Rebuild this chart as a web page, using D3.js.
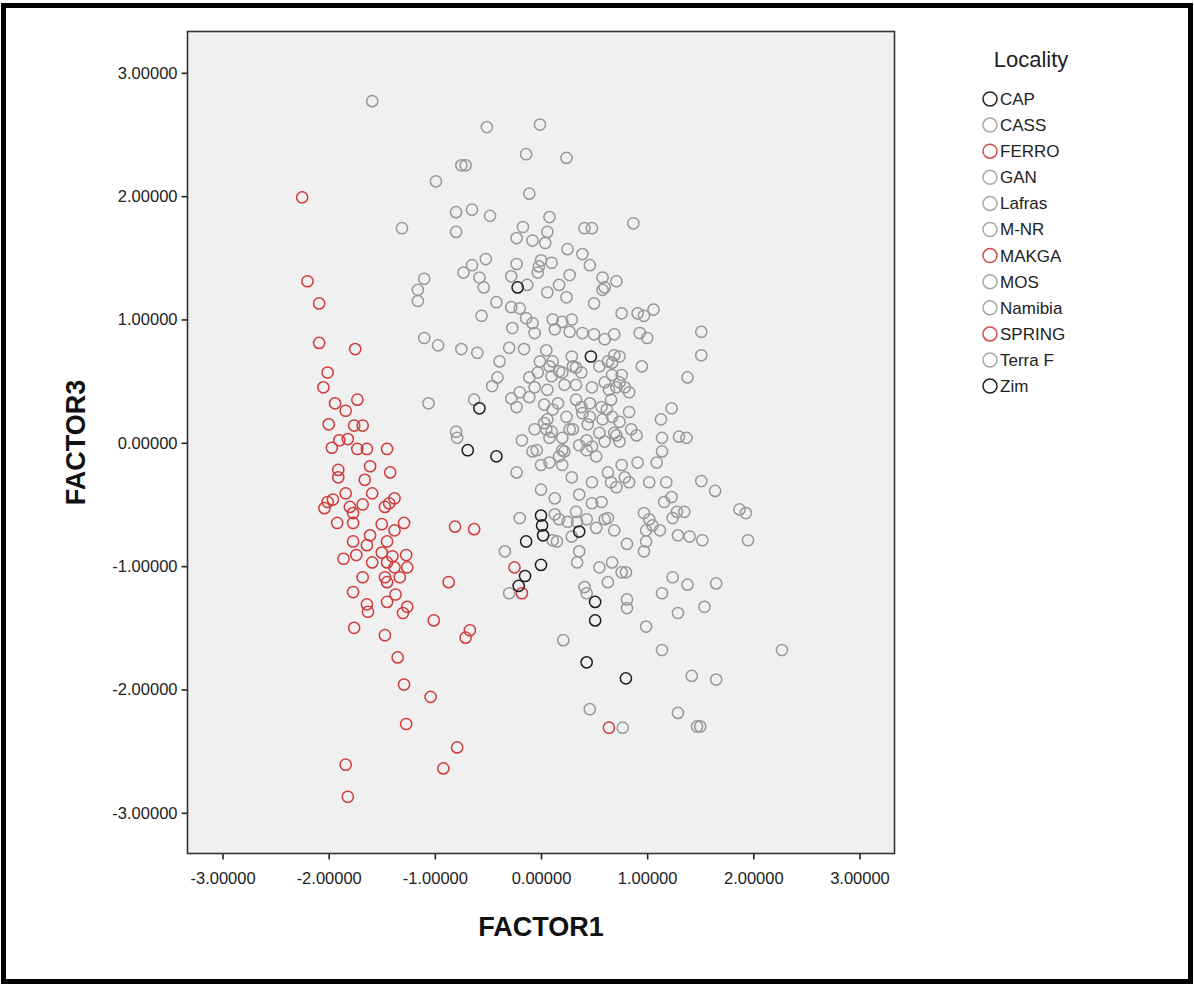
<!DOCTYPE html>
<html>
<head>
<meta charset="utf-8">
<script src="https://cdn.jsdelivr.net/npm/d3@7"></script>
<style>
body { margin: 0; background: #fff; }
svg { display: block; font-family: Arial, "Liberation Sans", sans-serif; }
</style>
</head>
<body>
<div id="chart"></div>
<script>
var localities = ["CAP", "CASS", "FERRO", "GAN", "Lafras", "M-NR", "MAKGA", "MOS", "Namibia", "SPRING", "Terra F", "Zim"];
var localityColors = ["#222222", "#a8a8a8", "#d24a4a", "#a8a8a8", "#a8a8a8", "#a8a8a8", "#d24a4a", "#a8a8a8", "#a8a8a8", "#d24a4a", "#a8a8a8", "#222222"];

var xTicks = [-3, -2, -1, 0, 1, 2, 3];
var yTicks = [-3, -2, -1, 0, 1, 2, 3];

// CASS, GAN, Lafras, M-NR, MOS, Namibia, Terra F (grey markers)
var grayPoints = [
  [-1.59,2.77],[-0.51,2.56],[-0.01,2.58],[-0.14,2.34],[0.24,2.31],
  [-0.75,2.25],[-0.71,2.25],[-0.99,2.12],[-0.11,2.02],[-1.31,1.74],
  [-0.80,1.87],[-0.65,1.89],[-0.48,1.84],[-0.80,1.71],[0.08,1.83],
  [-0.17,1.75],[0.06,1.71],[-0.23,1.66],[-0.08,1.64],[0.04,1.62],
  [0.41,1.74],[0.48,1.74],[0.87,1.78],[0.25,1.57],[0.39,1.53],
  [0.46,1.44],[0.10,1.46],[-0.52,1.49],[-0.65,1.44],[-0.73,1.38],
  [-0.23,1.45],[0.00,1.48],[-0.02,1.43],[-0.03,1.38],[-0.28,1.35],
  [0.27,1.36],[0.58,1.34],[-1.10,1.33],[-1.16,1.24],[-1.16,1.15],
  [-0.58,1.34],[-0.54,1.26],[0.17,1.28],[0.60,1.26],[0.71,1.31],
  [0.58,1.24],[0.50,1.13],[-0.42,1.14],[-0.56,1.03],[-0.27,0.93],
  [-0.28,1.10],[-0.20,1.09],[-0.13,1.28],[0.06,1.22],[0.24,1.18],
  [0.76,1.05],[0.91,1.05],[1.06,1.08],[0.97,1.03],[-0.14,1.01],
  [-0.08,0.97],[-0.06,0.89],[0.11,1.00],[0.20,0.98],[0.29,1.00],
  [0.13,0.92],[0.27,0.90],[0.39,0.89],[0.50,0.88],[0.60,0.84],
  [0.69,0.88],[0.93,0.89],[1.00,0.85],[1.51,0.90],[1.51,0.71],
  [1.38,0.53],[-1.10,0.85],[-0.97,0.79],[-0.75,0.76],[-0.60,0.73],
  [-0.30,0.77],[-0.16,0.76],[0.05,0.75],[-0.39,0.66],[-0.41,0.53],
  [-0.46,0.46],[-0.01,0.66],[0.11,0.66],[0.29,0.70],[0.30,0.62],
  [0.38,0.57],[0.20,0.57],[0.10,0.54],[-0.03,0.57],[-0.11,0.53],
  [-0.20,0.41],[-0.28,0.36],[-0.11,0.37],[-0.06,0.45],[0.06,0.43],
  [0.22,0.47],[0.33,0.47],[0.48,0.45],[0.60,0.49],[0.71,0.45],
  [0.63,0.66],[0.67,0.65],[0.55,0.62],[0.67,0.55],[0.74,0.70],
  [0.95,0.62],[0.76,0.55],[0.83,0.41],[0.79,0.45],[1.23,0.28],
  [1.13,0.19],[0.83,0.25],[0.64,0.43],[-1.06,0.32],[-0.63,0.35],
  [-0.23,0.29],[0.03,0.31],[0.16,0.32],[0.33,0.35],[0.46,0.32],
  [0.57,0.29],[0.66,0.35],[0.24,0.21],[0.39,0.24],[0.06,0.19],
  [-0.06,0.11],[-0.18,0.02],[0.10,0.09],[0.27,0.11],[0.44,0.15],
  [0.58,0.19],[0.67,0.21],[0.55,0.08],[0.71,0.06],[-0.80,0.09],
  [-0.79,0.04],[-0.04,-0.06],[0.20,-0.06],[0.36,-0.02],[0.48,-0.03],
  [0.60,0.01],[0.74,0.01],[0.90,0.06],[0.85,0.11],[0.74,0.17],
  [0.62,0.27],[1.14,0.04],[1.30,0.05],[1.37,0.04],[-0.08,-0.07],
  [-0.23,-0.24],[0.00,-0.18],[0.17,-0.11],[0.20,-0.18],[0.29,-0.28],
  [0.43,-0.06],[0.52,-0.11],[0.63,-0.24],[0.48,-0.32],[0.66,-0.32],
  [0.00,-0.38],[0.13,-0.45],[-0.20,-0.61],[0.13,-0.58],[0.25,-0.64],
  [0.33,-0.56],[0.29,-0.76],[0.15,-0.80],[0.52,-0.69],[0.60,-0.62],
  [0.69,-0.71],[0.43,-0.62],[-0.34,-0.88],[0.36,-0.88],[0.34,-0.97],
  [0.55,-1.01],[0.67,-0.97],[0.41,-1.17],[0.43,-1.22],[0.63,-1.13],
  [-0.30,-1.22],[0.69,0.08],[1.14,-0.07],[0.91,-0.16],[1.09,-0.16],
  [0.76,-0.18],[0.79,-0.28],[0.71,-0.36],[0.83,-0.32],[1.02,-0.32],
  [1.18,-0.32],[1.23,-0.44],[1.16,-0.48],[1.51,-0.31],[1.64,-0.39],
  [1.87,-0.54],[1.93,-0.57],[1.95,-0.79],[0.48,-0.49],[0.57,-0.48],
  [0.63,-0.61],[0.34,-0.64],[0.17,-0.62],[0.11,-0.79],[0.81,-0.82],
  [0.97,-0.57],[1.02,-0.62],[1.05,-0.67],[1.12,-0.71],[0.99,-0.71],
  [1.29,-0.75],[1.40,-0.76],[1.52,-0.79],[1.28,-0.56],[1.35,-0.56],
  [1.24,-0.61],[0.99,-0.80],[0.97,-0.88],[0.76,-1.05],[0.80,-1.05],
  [0.81,-1.27],[0.81,-1.34],[1.24,-1.09],[1.38,-1.15],[1.65,-1.14],
  [1.14,-1.22],[1.29,-1.38],[1.54,-1.33],[0.99,-1.49],[0.21,-1.60],
  [1.14,-1.68],[2.27,-1.68],[1.42,-1.89],[1.65,-1.92],[0.46,-2.16],
  [0.77,-2.31],[1.29,-2.19],[1.47,-2.30],[1.50,-2.30],
  [0.30,0.11],[0.43,0.02],[0.11,0.27],[0.03,0.16],[0.20,0.04],
  [0.08,0.04],[0.38,0.29],[0.46,0.21],[0.74,0.49],[0.33,0.61],
  [0.17,0.58],[0.08,0.62],[0.69,0.71],[0.05,0.11],[0.22,-0.07],
  [0.08,-0.16],[0.36,-0.42]
];

// FERRO, MAKGA, SPRING (red markers)
var redPoints = [
  [-2.25,1.99],[-2.20,1.31],[-2.09,1.13],[-2.09,0.81],[-1.75,0.76],
  [-2.01,0.57],[-2.05,0.45],[-1.73,0.35],[-1.94,0.32],[-1.84,0.26],
  [-2.00,0.15],[-1.76,0.14],[-1.68,0.14],[-1.82,0.03],[-1.90,0.02],
  [-1.97,-0.04],[-1.73,-0.05],[-1.64,-0.05],[-1.45,-0.05],[-1.61,-0.19],
  [-1.42,-0.24],[-1.91,-0.22],[-1.91,-0.28],[-1.66,-0.30],[-1.59,-0.41],
  [-1.84,-0.41],[-2.01,-0.48],[-2.04,-0.53],[-1.96,-0.46],[-1.68,-0.50],
  [-1.77,-0.57],[-1.80,-0.52],[-1.47,-0.52],[-1.43,-0.49],[-1.38,-0.45],
  [-1.92,-0.65],[-1.77,-0.65],[-1.50,-0.66],[-1.38,-0.71],[-1.29,-0.65],
  [-1.61,-0.75],[-1.77,-0.80],[-1.45,-0.80],[-1.86,-0.94],[-1.74,-0.91],
  [-1.64,-0.83],[-1.50,-0.89],[-1.40,-0.92],[-1.27,-0.91],[-1.59,-0.97],
  [-1.45,-0.97],[-1.38,-1.01],[-1.26,-1.01],[-1.68,-1.09],[-1.47,-1.09],
  [-1.33,-1.09],[-1.45,-1.13],[-1.77,-1.21],[-1.37,-1.23],[-1.45,-1.29],
  [-1.64,-1.31],[-1.63,-1.37],[-1.30,-1.38],[-1.26,-1.33],[-1.76,-1.50],
  [-1.47,-1.56],[-1.35,-1.74],[-1.29,-1.96],[-1.27,-2.28],[-1.84,-2.61],
  [-1.82,-2.87],[-1.01,-1.44],[-1.04,-2.06],[-0.79,-2.47],[-0.92,-2.64],
  [-0.87,-1.13],[-0.67,-1.52],[-0.71,-1.58],[-0.81,-0.68],[-0.63,-0.70],
  [-0.25,-1.01],[-0.18,-1.22],[0.64,-2.31]
];

// CAP, Zim (black markers)
var blackPoints = [
  [-0.22,1.26],[0.47,0.70],[-0.58,0.28],[-0.69,-0.06],[-0.42,-0.11],
  [0.00,-0.59],[0.01,-0.67],[0.02,-0.75],[-0.14,-0.80],[0.36,-0.72],
  [0.00,-0.99],[-0.15,-1.08],[-0.21,-1.16],[0.51,-1.29],[0.51,-1.44],
  [0.43,-1.78],[0.80,-1.91]
];

var width = 1194, height = 986;
var plot = {left: 187.5, right: 894.5, top: 31.5, bottom: 853.5};

var svg = d3.select('#chart').append('svg')
    .attr('width', width)
    .attr('height', height);

// outer frame
svg.append('rect')
    .attr('x', 3.5).attr('y', 5.5)
    .attr('width', width - 7).attr('height', height - 10)
    .attr('fill', 'none')
    .attr('stroke', '#000')
    .attr('stroke-width', 5);

var x = d3.scaleLinear()
    .domain([-3.33, 3.33])
    .range([plot.left, plot.right]);

var y = d3.scaleLinear()
    .domain([-3.33, 3.335])
    .range([plot.bottom, plot.top]);

svg.append('rect')
    .attr('x', plot.left).attr('y', plot.top)
    .attr('width', plot.right - plot.left)
    .attr('height', plot.bottom - plot.top)
    .attr('fill', '#f0f0f0');

var fmt = function(d) { return d.toFixed(5); };

var xAxis = svg.append('g')
    .attr('transform', 'translate(0,' + plot.bottom + ')')
    .call(d3.axisBottom(x).tickValues(xTicks).tickSize(6).tickPadding(13).tickFormat(fmt));

var yAxis = svg.append('g')
    .attr('transform', 'translate(' + plot.left + ',0)')
    .call(d3.axisLeft(y).tickValues(yTicks).tickSize(6).tickPadding(4).tickFormat(fmt));

[xAxis, yAxis].forEach(function(a) {
  a.select('.domain').remove();
  a.selectAll('.tick line').attr('stroke', '#222').attr('stroke-width', 1.6);
  a.selectAll('.tick text')
      .attr('fill', '#222')
      .style('font-size', '16.5px')
      .style('font-family', 'Arial, "Liberation Sans", sans-serif');
});

var series = [
  {pts: grayPoints, color: '#999999'},
  {pts: redPoints, color: '#d03c3c'},
  {pts: blackPoints, color: '#1e1e1e'}
];

series.forEach(function(s) {
  svg.append('g').selectAll('circle')
    .data(s.pts)
    .enter().append('circle')
      .attr('cx', function(d) { return x(d[0]); })
      .attr('cy', function(d) { return y(d[1]); })
      .attr('r', 5.6)
      .attr('fill', 'none')
      .attr('stroke', s.color)
      .attr('stroke-width', 1.5);
});

// plot border
svg.append('rect')
    .attr('x', plot.left).attr('y', plot.top)
    .attr('width', plot.right - plot.left)
    .attr('height', plot.bottom - plot.top)
    .attr('fill', 'none')
    .attr('stroke', '#333')
    .attr('stroke-width', 1.6);

svg.append('text')
    .attr('x', (plot.left + plot.right) / 2)
    .attr('y', 936)
    .attr('text-anchor', 'middle')
    .style('font-size', '27px')
    .style('font-weight', 'bold')
    .attr('fill', '#111')
    .text('FACTOR1');

svg.append('text')
    .attr('transform', 'translate(85,' + (plot.top + plot.bottom) / 2 + ') rotate(-90)')
    .attr('text-anchor', 'middle')
    .style('font-size', '27px')
    .style('font-weight', 'bold')
    .attr('fill', '#111')
    .text('FACTOR3');

// legend
var legend = svg.append('g');

legend.append('text')
    .attr('x', 1031)
    .attr('y', 67)
    .attr('text-anchor', 'middle')
    .style('font-size', '22px')
    .attr('fill', '#222')
    .text('Locality');

var item = legend.selectAll('.item')
    .data(localities)
    .enter().append('g')
      .attr('class', 'item')
      .attr('transform', function(d, i) { return 'translate(990,' + (99 + i * 26.1) + ')'; });

item.append('circle')
    .attr('r', 7)
    .attr('fill', 'none')
    .attr('stroke', function(d, i) { return localityColors[i]; })
    .attr('stroke-width', 1.5);

item.append('text')
    .attr('x', 10)
    .attr('dy', '0.35em')
    .style('font-size', '17px')
    .attr('fill', '#222')
    .text(function(d) { return d; });
</script>
</body>
</html>
